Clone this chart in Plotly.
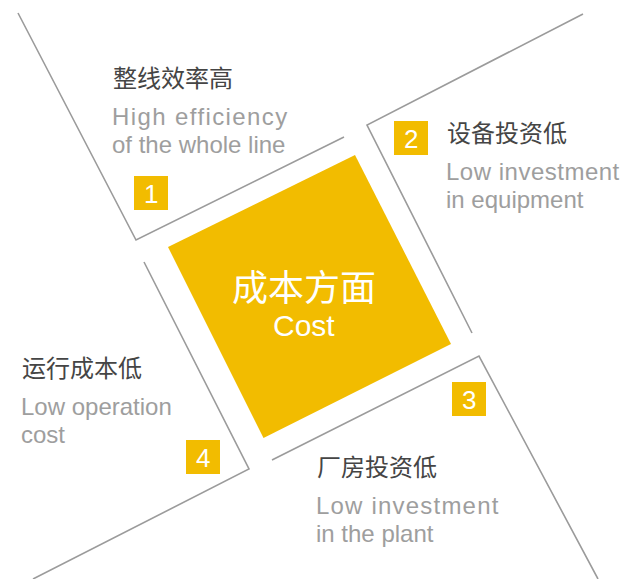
import plotly.graph_objects as go

# ---- content ----
numbers = ["1", "2", "3", "4"]
titles_cn = ["整线效率高", "设备投资低", "厂房投资低", "运行成本低"]
titles_en_1 = ["High efficiency", "Low investment", "Low investment", "Low operation"]
titles_en_2 = ["of the whole line", "in equipment", "in the plant", "cost"]
center_cn = "成本方面"
center_en = "Cost"

# ---- layout geometry (pixels, y downward) ----
panel_lines = [
    [(18, 13), (136, 240), (344, 137)],
    [(583, 14), (367, 125), (472, 333)],
    [(272, 460), (479, 356), (598, 579)],
    [(144, 262), (249, 469), (33, 579)],
]
square = [(355, 155), (451, 344), (263.5, 438), (168, 247)]
box_pos = [(134, 176), (394, 121), (452, 382), (186, 440)]
box_size = 34
text_x = [111, 445, 315, 20]
cn_y = [76, 131, 465, 366]
en_gap1 = 40
en_gap2 = 28
en_spacing = ["1.4px", "0.5px", "1.2px", "0px"]

YELLOW = "#F2BC00"
LINE = "#9B9B9B"
CN_COLOR = "#454545"
EN_COLOR = "#9E9E9E"

fig = go.Figure()

# central square
fig.add_trace(go.Scatter(
    x=[p[0] for p in square] + [square[0][0]],
    y=[p[1] for p in square] + [square[0][1]],
    mode="lines", fill="toself", fillcolor=YELLOW,
    line=dict(color=YELLOW, width=0), hoverinfo="skip", showlegend=False))

# panel corner lines
for pl in panel_lines:
    fig.add_trace(go.Scatter(
        x=[p[0] for p in pl], y=[p[1] for p in pl], mode="lines",
        line=dict(color=LINE, width=1.6), hoverinfo="skip", showlegend=False))

shapes = []
annotations = []
for i in range(4):
    bx, by = box_pos[i]
    shapes.append(dict(type="rect", xref="x", yref="y", x0=bx, y0=by,
                       x1=bx + box_size, y1=by + box_size,
                       fillcolor=YELLOW, line=dict(width=0), layer="above"))
    annotations.append(dict(x=bx + box_size / 2, y=by + box_size / 2 + 1, text=numbers[i],
                            showarrow=False, xanchor="center", yanchor="middle",
                            font=dict(family="Liberation Sans, Arial", size=26, color="white")))
    annotations.append(dict(x=text_x[i], y=cn_y[i], text=titles_cn[i],
                            showarrow=False, xanchor="left", yanchor="middle",
                            font=dict(family="Noto Sans CJK SC", size=24, color=CN_COLOR)))
    annotations.append(dict(x=text_x[i] - 1, y=cn_y[i] + en_gap1,
                            text='<span style="letter-spacing:%s">%s</span>' % (en_spacing[i], titles_en_1[i]),
                            showarrow=False, xanchor="left", yanchor="middle",
                            font=dict(family="Liberation Sans, Arial", size=24, color=EN_COLOR)))
    annotations.append(dict(x=text_x[i] - 1, y=cn_y[i] + en_gap1 + en_gap2, text=titles_en_2[i],
                            showarrow=False, xanchor="left", yanchor="middle",
                            font=dict(family="Liberation Sans, Arial", size=24, color=EN_COLOR)))

annotations.append(dict(x=304, y=285, text=center_cn, showarrow=False,
                        xanchor="center", yanchor="middle",
                        font=dict(family="Noto Sans CJK SC", size=36, color="white")))
annotations.append(dict(x=304, y=325, text=center_en, showarrow=False,
                        xanchor="center", yanchor="middle",
                        font=dict(family="Liberation Sans, Arial", size=30, color="white")))

fig.update_layout(
    width=626, height=579, margin=dict(l=0, r=0, t=0, b=0),
    paper_bgcolor="white", plot_bgcolor="white",
    xaxis=dict(range=[0, 626], visible=False, fixedrange=True),
    yaxis=dict(range=[579, 0], visible=False, fixedrange=True),
    shapes=shapes, annotations=annotations, showlegend=False,
)

fig.write_html("out.html", config={"displayModeBar": False, "staticPlot": True},
               post_script="document.body.style.margin='0';document.body.style.overflow='hidden';")
